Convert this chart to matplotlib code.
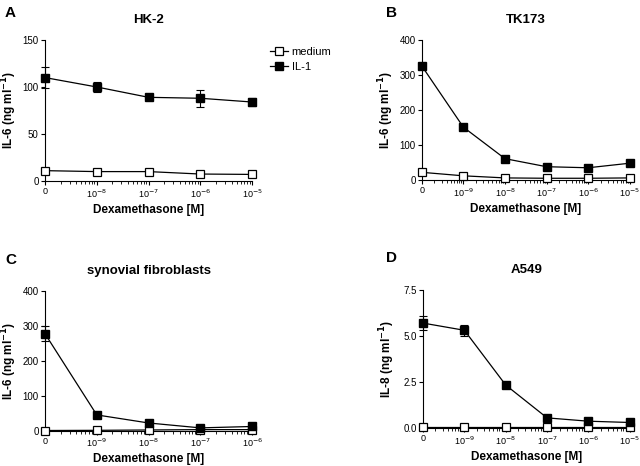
import numpy as np
import matplotlib.pyplot as plt
from matplotlib.lines import Line2D

plt.rcParams['font.family'] = ['Liberation Sans', 'DejaVu Sans']

# panel A - HK-2
a_ticks = ['0', '10$^{-8}$', '10$^{-7}$', '10$^{-6}$', '10$^{-5}$']
a_il1 = [110, 100, 89, 88, 84]
a_il1_err = [11, 5, 1.5, 9, 4]
a_med = [11, 10, 10, 7.4, 7]

# panel B - TK173
b_ticks = ['0', '10$^{-9}$', '10$^{-8}$', '10$^{-7}$', '10$^{-6}$', '10$^{-5}$']
b_il1 = [326, 151, 61, 38, 35, 48]
b_il1_err = [4, 4, 3, 2, 2, 3]
b_med = [22, 12, 6, 5, 5, 6]

# panel C - synovial fibroblasts
c_ticks = ['0', '10$^{-9}$', '10$^{-8}$', '10$^{-7}$', '10$^{-6}$']
c_il1 = [277, 45, 22, 8, 12]
c_il1_err = [22, 3, 2, 2, 2]
c_med = [0.5, 1, 2, 3, 3]

# panel D - A549
d_ticks = ['0', '10$^{-9}$', '10$^{-8}$', '10$^{-7}$', '10$^{-6}$', '10$^{-5}$']
d_il1 = [5.69, 5.3, 2.33, 0.55, 0.37, 0.3]
d_il1_err = [0.38, 0.3, 0.05, 0.05, 0.05, 0.05]
d_med = [0.05, 0.05, 0.05, 0.05, 0.05, 0.05]

fig = plt.figure(figsize=(6.4, 4.66), dpi=100)

def panel(rect, ticks, il1, err, med, ymax, yticks, ylabels, ylab, title, letter, lx, ly):
    ax = fig.add_axes(rect)
    x = np.arange(len(ticks))
    ax.plot(x, med, 's-', color='black', mfc='white', mec='black', ms=5.5, lw=0.9,
            mew=0.9, clip_on=False, zorder=3)
    ax.errorbar(x, il1, yerr=err, fmt='s-', color='black', ms=5.5, lw=0.9,
                elinewidth=0.8, capsize=2.7, capthick=0.8, clip_on=False, zorder=4)
    ax.set_xlim(0, len(ticks) - 1)
    ax.set_ylim(0, ymax)
    ax.set_xticks(x)
    ax.set_xticklabels(ticks, fontsize=6.5)
    minor = [i + np.log10(k) for i in range(len(ticks) - 1) for k in range(2, 10)]
    ax.set_xticks(minor, minor=True)
    ax.set_yticks(yticks)
    ax.set_yticklabels(ylabels, fontsize=7)
    ax.tick_params(which='major', length=3, width=0.8, pad=1.5)
    ax.tick_params(which='minor', length=1.8, width=0.6)
    for s in ['top', 'right']:
        ax.spines[s].set_visible(False)
    for s in ['left', 'bottom']:
        ax.spines[s].set_linewidth(0.8)
    ax.set_xlabel('Dexamethasone [M]', fontsize=8.5, fontweight='bold', labelpad=3)
    ax.set_ylabel(ylab, fontsize=8.5, fontweight='bold')
    ax.yaxis.set_label_coords(-0.125, 0.5)
    ax.set_title(title, fontsize=9.5, fontweight='bold', pad=12)
    fig.text(lx, ly, letter, fontsize=11, fontweight='bold', ha='left', va='center')
    return ax

axA = panel([0.0703, 0.6116, 0.3237, 0.3026], a_ticks, a_il1, a_il1_err, a_med,
            150, [0, 50, 100, 150], ['0', '50', '100', '150'],
            'IL-6 (ng ml$^{\\mathbf{-1}}$)', 'HK-2', 'A', 0.008, 0.972)
panel([0.659, 0.6137, 0.325, 0.3005], b_ticks, b_il1, b_il1_err, b_med,
      400, [0, 100, 200, 300, 400], ['0', '100', '200', '300', '400'],
      'IL-6 (ng ml$^{\\mathbf{-1}}$)', 'TK173', 'B', 0.603, 0.972)
panel([0.0703, 0.0758, 0.3237, 0.3004], c_ticks, c_il1, c_il1_err, c_med,
      400, [0, 100, 200, 300, 400], ['0', '100', '200', '300', '400'],
      'IL-6 (ng ml$^{\\mathbf{-1}}$)', 'synovial fibroblasts', 'C', 0.008, 0.442)
panel([0.661, 0.0815, 0.323, 0.2968], d_ticks, d_il1, d_il1_err, d_med,
      7.5, [0, 2.5, 5.0, 7.5], ['0.0', '2.5', '5.0', '7.5'],
      'IL-8 (ng ml$^{\\mathbf{-1}}$)', 'A549', 'D', 0.603, 0.446)

handles = [Line2D([], [], color='black', lw=0.9, marker='s', ms=5.5, mfc='white', mew=0.9),
           Line2D([], [], color='black', lw=0.9, marker='s', ms=5.5)]
fig.legend(handles, ['medium', 'IL-1'], loc='upper left', bbox_to_anchor=(0.407, 0.92),
           frameon=False, fontsize=8, handlelength=1.6, handletextpad=0.3,
           labelspacing=0.45)

fig.savefig('out.png', dpi=100)
